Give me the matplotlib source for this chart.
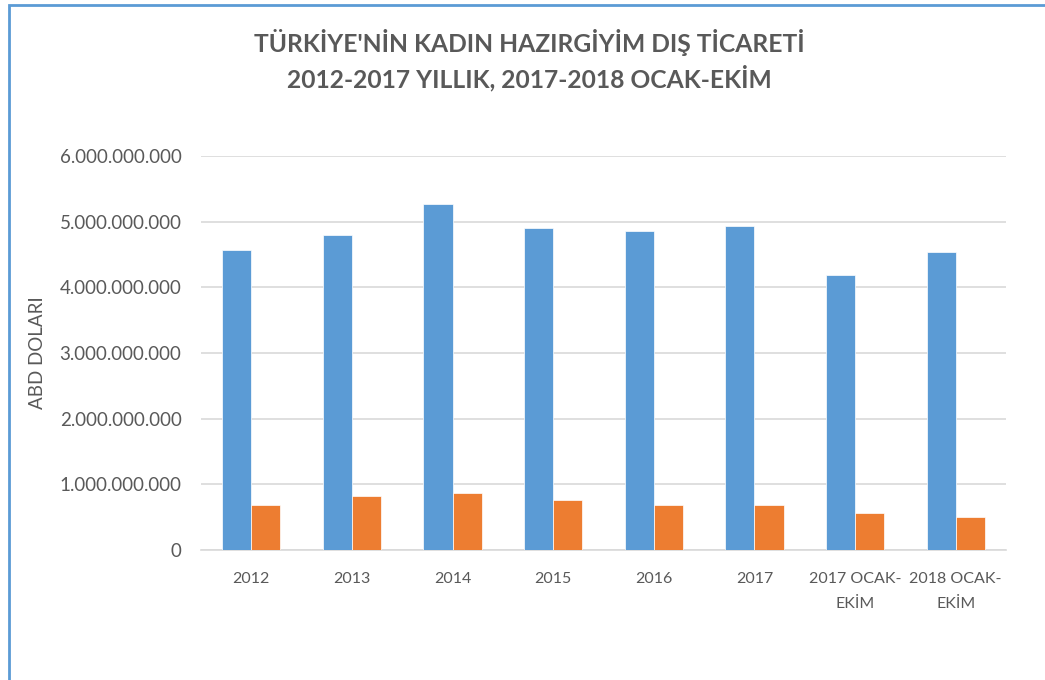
import matplotlib
matplotlib.use("Agg")
import matplotlib.pyplot as plt
import numpy as np
from matplotlib.ticker import FuncFormatter, MultipleLocator
from matplotlib.patches import Rectangle

categories = ["2012", "2013", "2014", "2015", "2016", "2017",
              "2017 OCAK-\nEKİM", "2018 OCAK-\nEKİM"]
series_a = [4.564e9, 4.797e9, 5.274e9, 4.903e9, 4.863e9, 4.929e9, 4.193e9, 4.538e9]
series_b = [0.680e9, 0.827e9, 0.873e9, 0.761e9, 0.680e9, 0.680e9, 0.568e9, 0.503e9]

plt.rcParams['font.family'] = ['Lato', 'DejaVu Sans']
txt = '#595959'

fig = plt.figure(figsize=(10.45, 6.8), dpi=100)
ax = fig.add_axes([201/1045, 1-550/680, (1006-201)/1045, (550-156)/680])

x = np.arange(len(categories))
w = 0.29
ax.bar(x - w/2, series_a, w, color='#5B9BD5', edgecolor='white', linewidth=0.5, zorder=3)
ax.bar(x + w/2, series_b, w, color='#ED7D31', edgecolor='white', linewidth=0.5, zorder=3)

ax.set_xlim(-0.5, len(categories) - 0.5)
ax.set_ylim(0, 6e9)
ax.yaxis.set_major_locator(MultipleLocator(1e9))
ax.yaxis.set_major_formatter(FuncFormatter(lambda v, p: f"{int(round(v)):,}".replace(",", ".")))
ax.grid(axis='y', color='#D9D9D9', linewidth=1.2, zorder=0)
for s in ['top', 'right', 'left']:
    ax.spines[s].set_visible(False)
ax.spines['bottom'].set_color('#D9D9D9')
ax.spines['bottom'].set_linewidth(1.2)
ax.tick_params(axis='both', length=0, colors=txt)
ax.tick_params(axis='y', labelsize=13.5, pad=14)
ax.tick_params(axis='x', labelsize=11.5, pad=16)
ax.set_xticks(x)
ax.set_xticklabels(categories, linespacing=2.0)
ax.set_ylabel("ABD DOLARI", fontsize=13.5, color=txt, labelpad=10)

fig.text(529/1045, 1-60/680, "TÜRKİYE'NİN KADIN HAZIRGİYİM DIŞ TİCARETİ\n2012-2017 YILLIK, 2017-2018 OCAK-EKİM",
         ha='center', va='center', fontsize=17.7, fontweight='bold', color=txt, linespacing=1.4)

fig.patches.append(Rectangle((8.5/1045, -0.1), 1.2, 1.1 - 5.5/680, transform=fig.transFigure,
                             fill=False, edgecolor='#5B9BD5', linewidth=2, figure=fig))

fig.savefig("out.png", dpi=100, facecolor='white')
